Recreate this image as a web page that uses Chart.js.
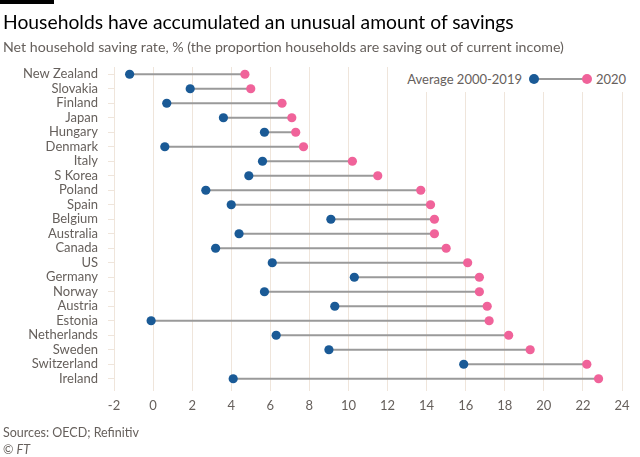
<!DOCTYPE html>
<html>
<head>
<meta charset="utf-8">
<script src="https://cdn.jsdelivr.net/npm/chart.js@4.4.0/dist/chart.umd.min.js"></script>
<style>
  html, body { margin:0; padding:0; background:#fff; }
  body { width:640px; height:457px; position:relative; overflow:hidden; font-family: Lato, "Open Sans", sans-serif; }
  #bar { position:absolute; left:0; top:0; width:54px; height:4px; background:#000; }
  #title { position:absolute; left:3px; top:10px; font-size:19.3px; color:#000; white-space:nowrap; line-height:24px; }
  #subtitle { position:absolute; left:3px; top:38px; font-size:14.2px; color:#66605c; white-space:nowrap; line-height:18px; }
  #wrap { position:absolute; left:0; top:0; width:640px; height:457px; }
  #legend { position:absolute; left:400px; top:66px; width:240px; height:26px; background:#fff; }
  .lt { position:absolute; top:0; line-height:26px; font-size:13px; color:#66605c; white-space:nowrap; }
  .dot { position:absolute; width:10px; height:10px; border-radius:50%; top:8px; }
  .ln { position:absolute; height:2px; top:12px; background:#999; }
  #src { position:absolute; left:3px; top:425px; font-size:12.5px; color:#66605c; line-height:16px; white-space:nowrap; }
  #ft { position:absolute; left:3px; top:442px; font-size:12.5px; color:#66605c; line-height:16px; }
</style>
</head>
<body>
<div id="wrap"><canvas id="c" width="640" height="457"></canvas></div>
<div id="bar"></div>
<div id="title">Households have accumulated an unusual amount of savings</div>
<div id="subtitle">Net household saving rate, % (the proportion households are saving out of current income)</div>
<div id="legend">
  <span class="lt" style="right:118px;">Average 2000-2019</span>
  <span class="ln" style="left:134px;width:53px;"></span>
  <span class="dot" style="left:129px;background:#1a5a96;"></span>
  <span class="dot" style="left:182px;background:#f0639a;"></span>
  <span class="lt" style="left:196px;">2020</span>
</div>
<div id="src">Sources: OECD; Refinitiv</div>
<div id="ft">© <i>FT</i></div>
<script>
const categories = ["New Zealand","Slovakia","Finland","Japan","Hungary","Denmark","Italy","S Korea","Poland","Spain","Belgium","Australia","Canada","US","Germany","Norway","Austria","Estonia","Netherlands","Sweden","Switzerland","Ireland"];
const avg2000_2019 = [-1.2, 1.9, 0.7, 3.6, 5.7, 0.6, 5.6, 4.9, 2.7, 4.0, 9.1, 4.4, 3.2, 6.1, 10.3, 5.7, 9.3, -0.1, 6.3, 9.0, 15.9, 4.1];
const y2020 = [4.7, 5.0, 6.6, 7.1, 7.3, 7.7, 10.2, 11.5, 13.7, 14.2, 14.4, 14.4, 15.0, 16.1, 16.7, 16.7, 17.1, 17.2, 18.2, 19.3, 22.2, 22.8];
const xTicks = [-2,0,2,4,6,8,10,12,14,16,18,20,22,24];

const gridColor = '#efe5db';
const labelColor = '#66605c';
const font = { family: 'Lato, "Open Sans", sans-serif', size: 13 };

new Chart(document.getElementById('c'), {
  type: 'bar',
  data: {
    labels: categories,
    datasets: [
      { type:'line', label:'Average 2000-2019', data: avg2000_2019, showLine:false, pointRadius:4.6, pointHoverRadius:4.6, pointBackgroundColor:'#1a5a96', pointBorderWidth:0, order:1 },
      { type:'line', label:'2020', data: y2020, showLine:false, pointRadius:4.6, pointHoverRadius:4.6, pointBackgroundColor:'#f0639a', pointBorderWidth:0, order:2 },
      { type:'bar', label:'range', data: categories.map((c,i)=>[avg2000_2019[i], y2020[i]]), backgroundColor:'#9a9a9a', barThickness:1.5, order:3 }
    ]
  },
  options: {
    indexAxis: 'y',
    responsive: false,
    animation: false,
    events: [],
    layout: { padding: { top: 67, right: 18, bottom: 0, left: 0 } },
    plugins: { legend: { display:false }, tooltip: { enabled:false } },
    scales: {
      x: {
        type: 'linear', min: -2, max: 24, position: 'bottom',
        afterBuildTicks: (s) => { s.ticks = xTicks.map(v => ({ value: v })); },
        grid: { color: gridColor, lineWidth: 1, drawTicks: true, tickLength: 5, tickColor: gridColor },
        border: { display: false },
        ticks: { color: labelColor, font: font, padding: 7, maxRotation: 0 },
        afterFit: (s) => { s.height = 71; }
      },
      y: {
        type: 'category', offset: true,
        grid: { display: true, drawOnChartArea: false, drawTicks: true, tickLength: 6, offset: false, color: gridColor, tickColor: gridColor },
        border: { display: false },
        ticks: { color: labelColor, font: font, padding: 10, autoSkip: false },
        afterFit: (s) => { s.width = 114; }
      }
    }
  }
});
</script>
</body>
</html>
